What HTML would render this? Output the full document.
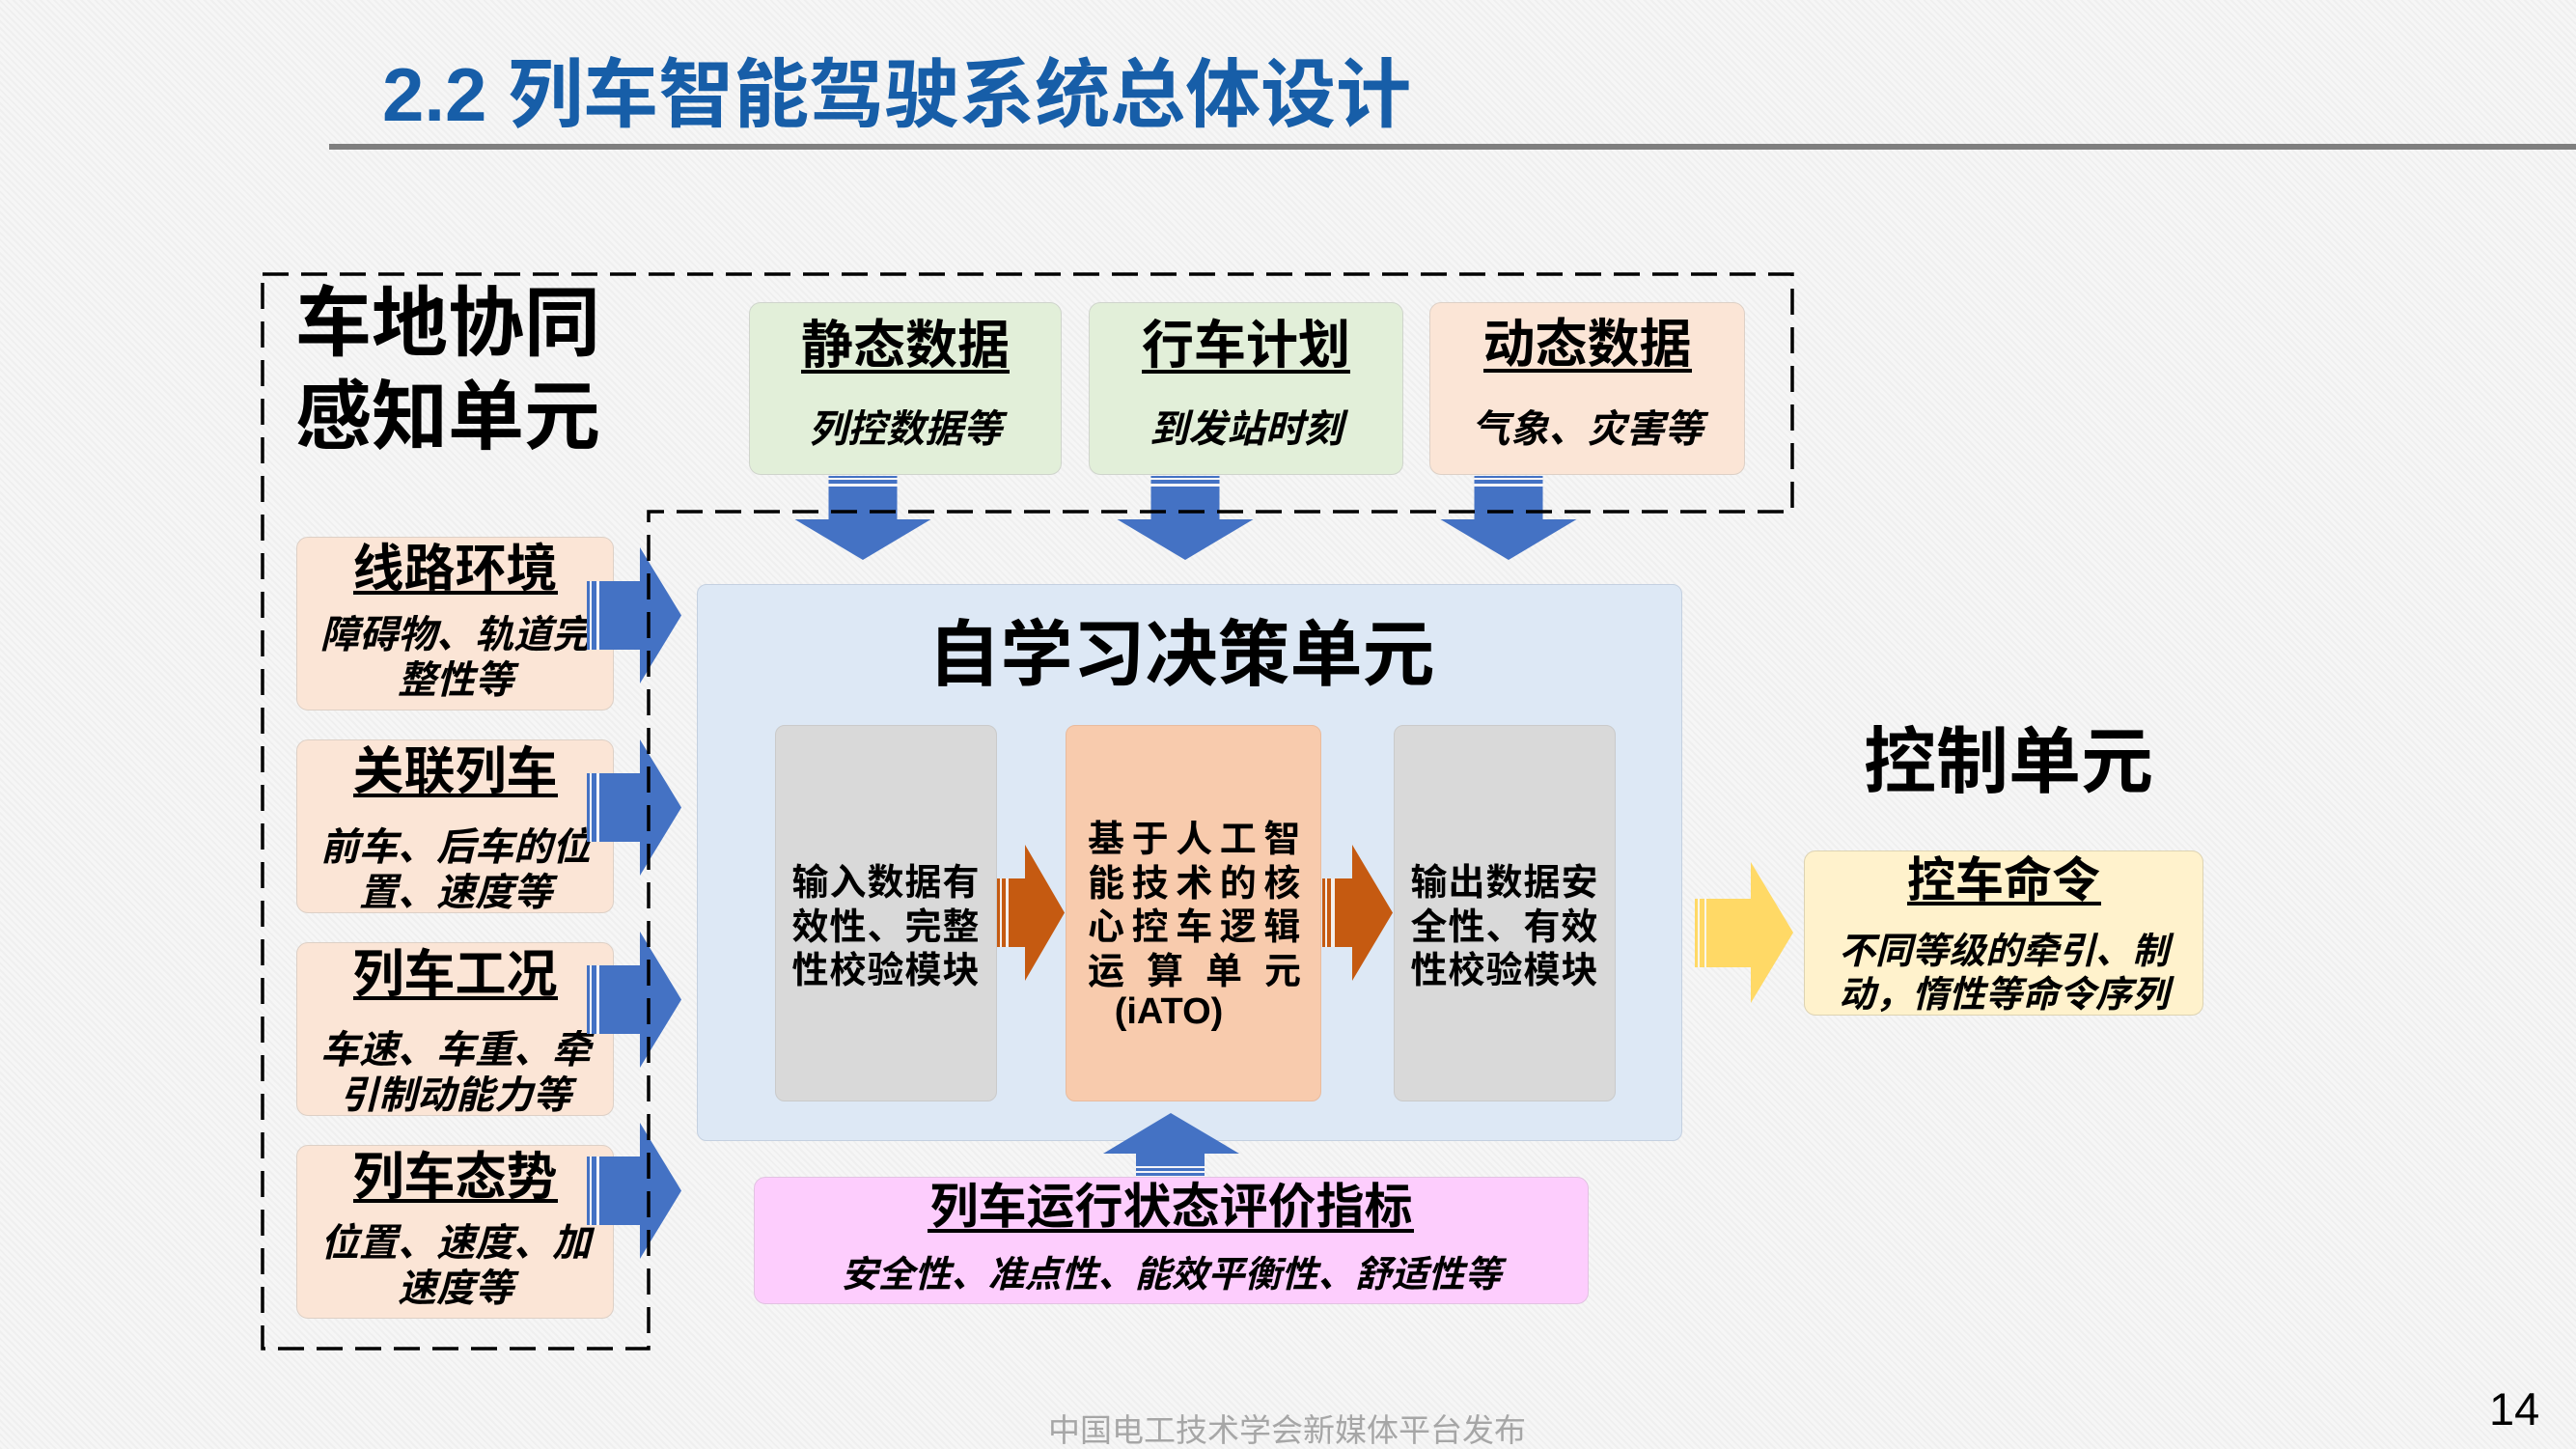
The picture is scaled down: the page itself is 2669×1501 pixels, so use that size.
<!DOCTYPE html>
<html>
<head>
<meta charset="utf-8">
<style>
  html, body { margin:0; padding:0; }
  body { width:2669px; height:1501px; overflow:hidden; position:relative;
    background: repeating-linear-gradient(45deg, #efefef 0px, #efefef 2px, #f6f6f6 2px, #f6f6f6 5px); }
  .t { position:absolute; white-space:nowrap; font-family:"Liberation Sans","Noto Sans CJK SC",sans-serif; font-weight:700; color:#000; }
  .c { text-align:center; }
  .i { font-style:italic; }
  .box { position:absolute; box-sizing:border-box; }
  .ul { position:absolute; background:#000; height:3.5px; }
  .lb { left:307px; width:329px; height:180px; border-radius:12px; background:#fbe5d6; border:1.5px solid #ddd0c6; }
  .tb { top:313px; height:179px; border-radius:12px; border:1.5px solid #cfd4cc; }
</style>
</head>
<body>

<!-- title -->
<div class="t" style="left:396px;top:59px;font-size:78px;line-height:78px;color:#175ea8;">2.2 列车智能驾驶系统总体设计</div>
<div class="box" style="left:341px;top:149px;width:2328px;height:6px;background:#7f7f7f;"></div>

<!-- 车地协同感知单元 -->
<div class="t" style="left:306px;top:286px;font-size:79px;line-height:97px;">车地协同<br>感知单元</div>

<!-- top boxes -->
<div class="box tb" style="left:776px;width:324px;background:#e2efd9;"></div>
<div class="box tb" style="left:1128px;width:326px;background:#e2efd9;"></div>
<div class="box tb" style="left:1481px;width:327px;background:#fbe5d6;border-color:#ddd0c6;"></div>

<div class="t c" style="left:776px;width:324px;top:331px;font-size:54px;line-height:54px;">静态数据</div>
<div class="ul" style="left:830px;width:216px;top:383px;"></div>
<div class="t c i" style="left:776px;width:324px;top:425px;font-size:40px;line-height:40px;">列控数据等</div>

<div class="t c" style="left:1128px;width:326px;top:331px;font-size:54px;line-height:54px;">行车计划</div>
<div class="ul" style="left:1183px;width:216px;top:383px;"></div>
<div class="t c i" style="left:1128px;width:326px;top:425px;font-size:40px;line-height:40px;">到发站时刻</div>

<div class="t c" style="left:1481px;width:327px;top:330px;font-size:54px;line-height:54px;">动态数据</div>
<div class="ul" style="left:1537px;width:216px;top:382px;"></div>
<div class="t c i" style="left:1481px;width:327px;top:425px;font-size:40px;line-height:40px;">气象、灾害等</div>

<!-- left boxes -->
<div class="box lb" style="top:556px;"></div>
<div class="box lb" style="top:766px;"></div>
<div class="box lb" style="top:976px;"></div>
<div class="box lb" style="top:1186px;"></div>

<div class="t c" style="left:307px;width:329px;top:563px;font-size:53px;line-height:53px;">线路环境</div>
<div class="ul" style="left:366px;width:212px;top:612px;"></div>
<div class="t c i" style="left:307px;width:330px;top:635px;font-size:40px;line-height:47px;">障碍物、轨道完<br>整性等</div>

<div class="t c" style="left:307px;width:329px;top:773px;font-size:53px;line-height:53px;">关联列车</div>
<div class="ul" style="left:366px;width:212px;top:822px;"></div>
<div class="t c i" style="left:307px;width:330px;top:855px;font-size:40px;line-height:47px;">前车、后车的位<br>置、速度等</div>

<div class="t c" style="left:307px;width:329px;top:983px;font-size:53px;line-height:53px;">列车工况</div>
<div class="ul" style="left:366px;width:212px;top:1032px;"></div>
<div class="t c i" style="left:307px;width:330px;top:1065px;font-size:40px;line-height:47px;">车速、车重、牵<br>引制动能力等</div>

<div class="t c" style="left:307px;width:329px;top:1193px;font-size:53px;line-height:53px;">列车态势</div>
<div class="ul" style="left:366px;width:212px;top:1242px;"></div>
<div class="t c i" style="left:307px;width:330px;top:1265px;font-size:40px;line-height:47px;">位置、速度、加<br>速度等</div>

<!-- center decision unit -->
<div class="box" style="left:722px;top:605px;width:1021px;height:577px;border-radius:10px;background:#dde8f5;border:1.5px solid #c4d0e0;"></div>
<div class="t c" style="left:924px;width:600px;top:641px;font-size:75px;line-height:75px;">自学习决策单元</div>

<div class="box" style="left:803px;top:751px;width:230px;height:390px;border-radius:10px;background:#d9d9d9;border:1.5px solid #cacaca;"></div>
<div class="box" style="left:1104px;top:751px;width:265px;height:390px;border-radius:10px;background:#f8cbad;border:1.5px solid #e8bb9e;"></div>
<div class="box" style="left:1444px;top:751px;width:230px;height:390px;border-radius:10px;background:#d9d9d9;border:1.5px solid #cacaca;"></div>

<div class="t c" style="left:803px;width:230px;top:893px;font-size:38px;line-height:45.5px;letter-spacing:1px;">输入数据有<br>效性、完整<br>性校验模块</div>
<div class="t c" style="left:1444px;width:230px;top:893px;font-size:38px;line-height:45.5px;letter-spacing:1px;">输出数据安<br>全性、有效<br>性校验模块</div>

<div class="t" style="left:1127px;top:848px;font-size:38px;line-height:45.5px;letter-spacing:7.6px;">基于人工智</div>
<div class="t" style="left:1127px;top:893.5px;font-size:38px;line-height:45.5px;letter-spacing:7.6px;">能技术的核</div>
<div class="t" style="left:1127px;top:939px;font-size:38px;line-height:45.5px;letter-spacing:7.6px;">心控车逻辑</div>
<div class="t" style="left:1127px;top:984.5px;width:221px;font-size:38px;line-height:45.5px;text-align:justify;text-align-last:justify;white-space:normal;">运 算 单 元</div>
<div class="t c" style="left:1111px;width:200px;top:1026px;font-size:38px;line-height:45.5px;">(iATO)</div>

<!-- bottom pink box -->
<div class="box" style="left:781px;top:1219px;width:865px;height:132px;border-radius:12px;background:#fdcdfd;border:1.5px solid #e2c2e2;"></div>
<div class="t c" style="left:781px;width:865px;top:1225px;font-size:50px;line-height:50px;">列车运行状态评价指标</div>
<div class="ul" style="left:961px;width:504px;top:1273px;"></div>
<div class="t c i" style="left:781px;width:865px;top:1302px;font-size:38px;line-height:38px;">安全性、准点性、能效平衡性、舒适性等</div>

<!-- control unit -->
<div class="t c" style="left:1781px;width:600px;top:752px;font-size:75px;line-height:75px;">控制单元</div>
<div class="box" style="left:1869px;top:881px;width:414px;height:171px;border-radius:12px;background:#fff2cc;border:1.5px solid #ddd3b3;"></div>
<div class="t c" style="left:1869px;width:414px;top:887px;font-size:50px;line-height:50px;">控车命令</div>
<div class="ul" style="left:1976px;width:201px;top:934px;"></div>
<div class="t c i" style="left:1869px;width:414px;top:964px;font-size:38px;line-height:45px;">不同等级的牵引、制<br>动，惰性等命令序列</div>

<!-- footer -->
<div class="t" style="left:1086px;top:1465px;font-size:33px;line-height:33px;font-weight:400;color:#a6a6a6;">中国电工技术学会新媒体平台发布</div>
<div class="t" style="left:2579px;top:1436px;font-size:47px;line-height:47px;font-weight:400;">14</div>

<!-- arrows & dashed frame -->
<svg width="2669" height="1501" style="position:absolute;left:0;top:0;" xmlns="http://www.w3.org/2000/svg">
  <g fill="#4472c4">
    <!-- left arrows -->
    <g>
      <rect x="608" y="602" width="13" height="71" fill="#f4f4f8"/>
      <rect x="608" y="602" width="3" height="71"/>
      <rect x="613" y="602" width="5" height="71"/>
      <polygon points="621,602 663,602 663,567 706,637.5 663,708 663,673 621,673"/>
    </g>
    <g>
      <rect x="608" y="801" width="13" height="71" fill="#f4f4f8"/>
      <rect x="608" y="801" width="3" height="71"/>
      <rect x="613" y="801" width="5" height="71"/>
      <polygon points="621,801 663,801 663,766 706,836.5 663,907 663,872 621,872"/>
    </g>
    <g>
      <rect x="608" y="1000" width="13" height="71" fill="#f4f4f8"/>
      <rect x="608" y="1000" width="3" height="71"/>
      <rect x="613" y="1000" width="5" height="71"/>
      <polygon points="621,1000 663,1000 663,965 706,1035.5 663,1106 663,1071 621,1071"/>
    </g>
    <g>
      <rect x="608" y="1198" width="13" height="71" fill="#f4f4f8"/>
      <rect x="608" y="1198" width="3" height="71"/>
      <rect x="613" y="1198" width="5" height="71"/>
      <polygon points="621,1198 663,1198 663,1163 706,1233.5 663,1304 663,1269 621,1269"/>
    </g>
    <!-- down arrows -->
    <g>
      <rect x="858.5" y="493" width="71" height="11" fill="#f4f4f8"/>
      <rect x="858.5" y="493" width="71" height="2"/>
      <rect x="858.5" y="497" width="71" height="4"/>
      <polygon points="858.5,504 929.5,504 929.5,538 964.5,538 894,580 823.5,538 858.5,538"/>
    </g>
    <g>
      <rect x="1192.5" y="493" width="71" height="11" fill="#f4f4f8"/>
      <rect x="1192.5" y="493" width="71" height="2"/>
      <rect x="1192.5" y="497" width="71" height="4"/>
      <polygon points="1192.5,504 1263.5,504 1263.5,538 1298.5,538 1228,580 1157.5,538 1192.5,538"/>
    </g>
    <g>
      <rect x="1527.5" y="493" width="71" height="11" fill="#f4f4f8"/>
      <rect x="1527.5" y="493" width="71" height="2"/>
      <rect x="1527.5" y="497" width="71" height="4"/>
      <polygon points="1527.5,504 1598.5,504 1598.5,538 1633.5,538 1563,580 1492.5,538 1527.5,538"/>
    </g>
    <!-- up arrow -->
    <g>
      <rect x="1177" y="1208" width="71" height="11" fill="#f4f4f8"/>
      <rect x="1177" y="1210" width="71" height="3"/>
      <rect x="1177" y="1215" width="71" height="3"/>
      <polygon points="1213,1153 1284,1195 1248,1195 1248,1208 1177,1208 1177,1195 1143,1195"/>
    </g>
  </g>
  <!-- orange arrows -->
  <g fill="#c55a11">
    <rect x="1033" y="910" width="12" height="71" fill="#f4efec"/>
    <rect x="1033" y="910" width="3" height="71"/>
    <rect x="1038" y="910" width="4" height="71"/>
    <polygon points="1045,910 1062,910 1062,875 1103,945.5 1062,1016 1062,981 1045,981"/>
    <rect x="1370" y="910" width="13" height="71" fill="#f4efec"/>
    <rect x="1370" y="910" width="3" height="71"/>
    <rect x="1375" y="910" width="4" height="71"/>
    <polygon points="1383,910 1401,910 1401,875 1443,945.5 1401,1016 1401,981 1383,981"/>
  </g>
  <!-- yellow arrow -->
  <g fill="#ffd966">
    <rect x="1756" y="931" width="12" height="71" fill="#faf6ea"/>
    <rect x="1756" y="931" width="3" height="71"/>
    <rect x="1761" y="931" width="5" height="71"/>
    <polygon points="1768,931 1814,931 1814,893 1858,966 1814,1039 1814,1002 1768,1002"/>
  </g>
  <!-- dashed frame -->
  <path d="M272,284 H1857 V530 H672 V1397 H272 Z" fill="none" stroke="#000" stroke-width="3.5" stroke-dasharray="27 13"/>
</svg>

</body>
</html>
